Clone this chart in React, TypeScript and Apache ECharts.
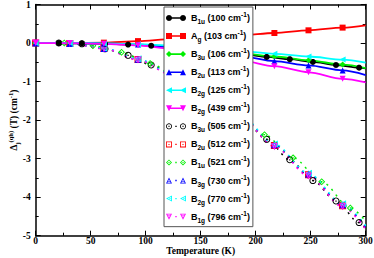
import React, { useEffect, useRef } from "react";
import * as echarts from "echarts";

// Temperatures (K) at which each curve is sampled / marked
const TEMPS_21 = [0, 21, 42, 63, 84, 105, 126, 147, 168, 189, 210, 231, 252, 273, 294, 300];
const TEMPS_26 = [0, 26, 52, 78, 104, 130, 156, 182, 208, 234, 260, 286, 300];
const TEMPS_31 = [0, 31, 62, 93, 124, 155, 186, 217, 248, 279, 300];

// Series values (cm^-1)
const B1U_100 = [0, 0, -0.01, -0.02, -0.04, -0.07, -0.11, -0.16, -0.22, -0.29, -0.36, -0.42, -0.49, -0.57, -0.64, -0.66];
const AG_103 = [0, 0, 0.01, 0.05, 0.1, 0.15, 0.2, 0.26, 0.33, 0.4, 0.46];
const B3U_106 = [0, 0, -0.01, -0.04, -0.1, -0.18, -0.27, -0.35, -0.45, -0.56, -0.65];
const B2U_113 = [0, 0, -0.01, -0.04, -0.11, -0.22, -0.34, -0.47, -0.58, -0.71, -0.83];
const B2G_125 = [0, 0, -0.01, -0.03, -0.07, -0.13, -0.21, -0.28, -0.35, -0.43, -0.51];
const B2G_439 = [0, 0, -0.02, -0.06, -0.15, -0.3, -0.45, -0.6, -0.76, -0.93, -1.02];
const B3U_505 = [0, 0, -0.02, -0.15, -0.32, -0.57, -0.86, -1.2, -1.58, -2.0, -2.5, -3.03, -3.57, -4.1, -4.66, -4.82];
const B2U_512 = [0, -0.01, -0.14, -0.43, -0.82, -1.3, -1.9, -2.66, -3.42, -4.22, -4.8];
const B1U_521 = [0, 0, -0.07, -0.24, -0.53, -0.9, -1.36, -1.85, -2.38, -2.98, -3.6, -4.28, -4.62];
const B3G_730 = [0, -0.01, -0.14, -0.42, -0.81, -1.29, -1.88, -2.64, -3.4, -4.2, -4.78];
const B2G_770 = [0, -0.01, -0.13, -0.41, -0.8, -1.28, -1.87, -2.62, -3.38, -4.17, -4.74];
const B1G_796 = [0, -0.01, -0.15, -0.44, -0.83, -1.32, -1.92, -2.69, -3.45, -4.25, -4.84];

const NAMES = [
  "B1u (100 cm-1)", "Ag (103 cm-1)", "B3u (106 cm-1)", "B2u (113 cm-1)",
  "B2g (125 cm-1)", "B2g (439 cm-1)", "B3u (505 cm-1)", "B2u (512 cm-1)",
  "B1u (521 cm-1)", "B3g (730 cm-1)", "B2g (770 cm-1)", "B1g (796 cm-1)",
];

const X_TICKS = { min: 0, max: 300, interval: 50 };
const Y_TICKS = { min: -5, max: 1, interval: 1 };

const SERIF = '"Liberation Serif", "Times New Roman", serif';
const SANS = '"Liberation Sans", Arial, sans-serif';

type Kind = "circle" | "square" | "diamond" | "up" | "left" | "down";

function shapePts(kind: Kind, r: number): [number, number][] {
  switch (kind) {
    case "circle": {
      const pts: [number, number][] = [];
      for (let i = 0; i < 20; i++) {
        const a = (i / 20) * Math.PI * 2;
        pts.push([r * Math.cos(a), r * Math.sin(a)]);
      }
      return pts;
    }
    case "square": return [[-r, -r], [r, -r], [r, r], [-r, r]];
    case "diamond": return [[0, -r], [r, 0], [0, r], [-r, 0]];
    case "up": return [[0, -r], [r, r], [-r, r]];
    case "left": return [[-r, 0], [r, -r], [r, r]];
    case "down": return [[0, r], [-r, -r], [r, -r]];
  }
}
const INNER_K: Record<Kind, number> = { circle: 0.72, square: 0.72, diamond: 0.62, up: 0.55, left: 0.55, down: 0.55 };

function poly(pts: [number, number][], cx: number, cy: number, reverse = false) {
  const p = reverse ? pts.slice().reverse() : pts;
  return p.map((q, i) => `${i ? "L" : "M"}${(q[0] + cx).toFixed(2)},${(q[1] + cy).toFixed(2)}`).join("") + "Z";
}
function marker(kind: Kind, open: boolean, r: number, cx: number, cy: number) {
  const outer = shapePts(kind, r);
  let d = poly(outer, cx, cy);
  if (open) {
    const gx = outer.reduce((s, q) => s + q[0], 0) / outer.length;
    const gy = outer.reduce((s, q) => s + q[1], 0) / outer.length;
    const k = INNER_K[kind];
    const inner = outer.map((q) => [gx + k * (q[0] - gx), gy + k * (q[1] - gy)] as [number, number]);
    d += poly(inner, cx, cy, true);
    const s = r * 0.18;
    d += poly([[-s, -s], [s, -s], [s, s], [-s, s]], cx + gx, cy + gy);
  }
  return d;
}
function seriesSymbol(kind: Kind, open: boolean) {
  return "path://" + marker(kind, open, 3.5, 3.5, 3.5);
}
function legendIcon(kind: Kind, open: boolean) {
  const r = 3, W = 20;
  let d = marker(kind, open, r, r, r) + marker(kind, open, r, W - r, r);
  if (open) {
    d += poly([[-0.7, -0.7], [0.7, -0.7], [0.7, 0.7], [-0.7, 0.7]], W / 2, r);
  } else {
    d += poly([[0, -0.8], [W - 2 * r, -0.8], [W - 2 * r, 0.8], [0, 0.8]], r, r);
  }
  return "path://" + d;
}

const SPECS: { temps: number[]; vals: number[]; color: string; kind: Kind; open: boolean }[] = [
  { temps: TEMPS_21, vals: B1U_100, color: "#000000", kind: "circle", open: false },
  { temps: TEMPS_31, vals: AG_103, color: "#ff0000", kind: "square", open: false },
  { temps: TEMPS_31, vals: B3U_106, color: "#00ee00", kind: "diamond", open: false },
  { temps: TEMPS_31, vals: B2U_113, color: "#0000ff", kind: "up", open: false },
  { temps: TEMPS_31, vals: B2G_125, color: "#00ffff", kind: "left", open: false },
  { temps: TEMPS_31, vals: B2G_439, color: "#ff00ff", kind: "down", open: false },
  { temps: TEMPS_21, vals: B3U_505, color: "#000000", kind: "circle", open: true },
  { temps: TEMPS_31, vals: B2U_512, color: "#ff0000", kind: "square", open: true },
  { temps: TEMPS_26, vals: B1U_521, color: "#00ee00", kind: "diamond", open: true },
  { temps: TEMPS_31, vals: B3G_730, color: "#0000ff", kind: "up", open: true },
  { temps: TEMPS_31, vals: B2G_770, color: "#00ffff", kind: "left", open: true },
  { temps: TEMPS_31, vals: B1G_796, color: "#ff00ff", kind: "down", open: true },
];

function legendLabel(name: string) {
  const m = name.match(/^(\w)(\w+) \((\d+) cm-1\)$/);
  if (!m) return name;
  return `{b|${m[1]}}{sub|${m[2]}}{b| (${m[3]} cm}{sup|-1}{b|)}`;
}

const axisCommon = (labels: boolean) => ({
  type: "value" as const,
  splitLine: { show: false },
  axisLine: { show: true, onZero: false, lineStyle: { color: "#000", width: 1.5 } },
  axisTick: { show: true, inside: true, length: 5, lineStyle: { color: "#000", width: 1 } },
  minorTick: { show: true, splitNumber: 2, length: 3, lineStyle: { color: "#000", width: 1 } },
  axisLabel: labels
    ? { show: true, fontFamily: SERIF, fontWeight: "bold" as const, fontSize: 9.5, color: "#000" }
    : { show: false },
});

export default function App() {
  const ref = useRef<HTMLDivElement>(null);
  useEffect(() => {
    if (!ref.current) return;
    const chart = echarts.init(ref.current, undefined, { renderer: "svg" });
    const series = SPECS.map((s, idx) => ({
      type: "line",
      name: NAMES[idx],
      data: s.temps.map((t, i) =>
        i === s.temps.length - 1 ? { value: [t, s.vals[i]], symbol: "none" } : { value: [t, s.vals[i]] }
      ),
      symbol: seriesSymbol(s.kind, s.open),
      symbolSize: s.open ? 7 : 6,
      showAllSymbol: true,
      smooth: 0.3,
      smoothMonotone: "x",
      lineStyle: s.open
        ? { color: s.color, width: 1.5, type: [2, 5] }
        : { color: s.color, width: 1.8 },
      itemStyle: { color: s.color, borderWidth: 0 },
      emphasis: { disabled: true },
      z: s.open ? 2 : 3,
    }));
    const subStyle = { fontFamily: SANS, fontWeight: "bold", fontSize: 6.5, color: "#000" };
    const ySub = { fontFamily: SERIF, fontWeight: "bold", fontSize: 6.5, color: "#000" };
    chart.setOption({
      animation: false,
      grid: { left: 35.7, top: 4.5, right: 8.3, bottom: 22.3, containLabel: false, outerBoundsMode: "none" },
      xAxis: [
        {
          ...axisCommon(true),
          ...X_TICKS,
          position: "bottom",
          axisLabel: { show: true, fontFamily: SERIF, fontWeight: "bold", fontSize: 9.5, color: "#000", margin: 0.5 },
          name: "Temperature (K)",
          nameLocation: "middle",
          nameGap: 10,
          nameMoveOverlap: false,
          nameTextStyle: { fontFamily: SERIF, fontWeight: "bold", fontSize: 9.5, color: "#000" },
        },
        { ...axisCommon(false), ...X_TICKS, position: "top" },
      ],
      yAxis: [
        {
          ...axisCommon(true),
          ...Y_TICKS,
          position: "left",
          axisLabel: { show: true, fontFamily: SERIF, fontWeight: "bold", fontSize: 9.5, color: "#000", margin: 5 },
          name: "{d|Δ}{s|j}{p|(qh)}{d| (T) (cm}{p|-1}{d|)}",
          nameLocation: "middle",
          nameGap: 15,
          nameRotate: 90,
          nameMoveOverlap: false,
          nameTextStyle: {
            rich: {
              d: { fontFamily: SERIF, fontWeight: "bold", fontSize: 9.5, color: "#000", lineHeight: 14 },
              s: { ...ySub, verticalAlign: "bottom" },
              p: { ...ySub, verticalAlign: "top" },
            },
          },
        },
        { ...axisCommon(false), ...Y_TICKS, position: "right" },
      ],
      legend: {
        orient: "vertical",
        left: 164,
        top: 7,
        padding: [4, 3, 3, 2],
        itemGap: 4.06,
        itemWidth: 20,
        itemHeight: 6,
        backgroundColor: "#ffffff",
        borderColor: "#555555",
        borderWidth: 1,
        selectedMode: false,
        itemStyle: { borderWidth: 0 },
        data: NAMES.map((n, i) => ({ name: n, icon: legendIcon(SPECS[i].kind, SPECS[i].open) })),
        formatter: legendLabel,
        textStyle: {
          rich: {
            b: { fontFamily: SANS, fontWeight: "bold", fontSize: 9, color: "#000", lineHeight: 14 },
            sub: { ...subStyle, verticalAlign: "bottom" },
            sup: { ...subStyle, verticalAlign: "top" },
          },
        },
        z: 10,
      },
      series,
    });
    return () => chart.dispose();
  }, []);
  return (
    <div
      ref={ref}
      style={{ position: "fixed", left: 0, top: 0, width: 374, height: 258, background: "#fff" }}
    />
  );
}
